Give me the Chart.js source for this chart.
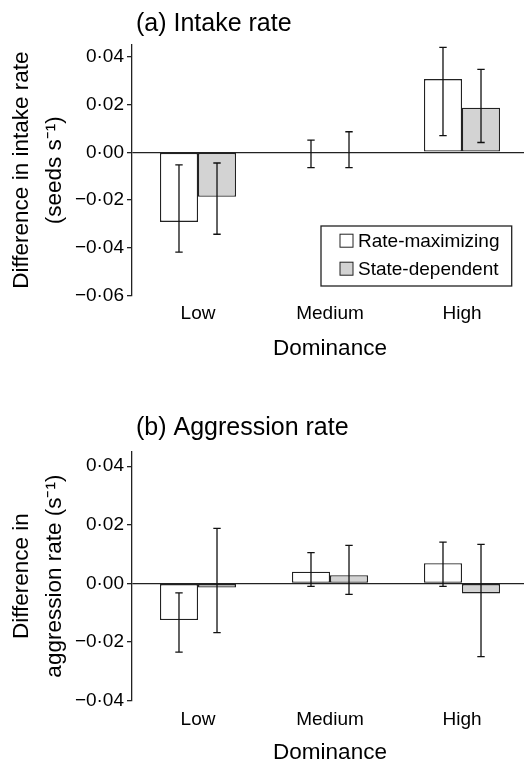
<!DOCTYPE html>
<html>
<head>
<meta charset="utf-8">
<script src="https://cdn.jsdelivr.net/npm/chart.js@4"></script>
<style>
  body { margin: 0; background: #fff; overflow: hidden; }
  .panel { position: relative; width: 524px; overflow: hidden; }
  canvas { display: block; }
</style>
</head>
<body>
<div class="panel"><canvas id="intakeChart" width="528" height="380"></canvas></div>
<div class="panel"><canvas id="aggressionChart" width="528" height="382"></canvas></div>
<script>
const categories = ["Low", "Medium", "High"];
const seriesNames = ["Rate-maximizing", "State-dependent"];

// (a) intake rate, seeds per second
const intakeRateMax = [-0.0292, 0, 0.0307];
const intakeRateMaxLow = [-0.0419, -0.0064, 0.0070];
const intakeRateMaxHigh = [-0.0053, 0.0051, 0.0440];
const intakeStateDep = [-0.0187, 0, 0.0187];
const intakeStateDepLow = [-0.0344, -0.0064, 0.0041];
const intakeStateDepHigh = [-0.0045, 0.0086, 0.0348];

// (b) aggression rate, per second
const aggressionRateMax = [-0.0125, 0.0040, 0.0069];
const aggressionRateMaxLow = [-0.0234, -0.0010, -0.0010];
const aggressionRateMaxHigh = [-0.0032, 0.0105, 0.0141];
const aggressionStateDep = [-0.0014, 0.0028, -0.0034];
const aggressionStateDepLow = [-0.0168, -0.0037, -0.0250];
const aggressionStateDepHigh = [0.0188, 0.0130, 0.0133];

const FONT = "'Liberation Sans', Arial, Helvetica, sans-serif";
Chart.defaults.font.family = FONT;
Chart.defaults.color = "#000";

const errorBars = {
  id: "errorBars",
  afterDatasetsDraw(chart) {
    const { ctx } = chart;
    const yScale = chart.scales.y;
    ctx.save();
    ctx.strokeStyle = "#111";
    ctx.lineWidth = 1.3;
    chart.data.datasets.forEach((ds, i) => {
      const meta = chart.getDatasetMeta(i);
      meta.data.forEach((bar, j) => {
        const top = yScale.getPixelForValue(ds.errHigh[j]);
        const bottom = yScale.getPixelForValue(ds.errLow[j]);
        ctx.beginPath();
        ctx.moveTo(bar.x, top);
        ctx.lineTo(bar.x, bottom);
        ctx.moveTo(bar.x - 3.7, top);
        ctx.lineTo(bar.x + 3.7, top);
        ctx.moveTo(bar.x - 3.7, bottom);
        ctx.lineTo(bar.x + 3.7, bottom);
        ctx.stroke();
      });
    });
    ctx.restore();
  },
};

const panelTitle = {
  id: "panelTitle",
  afterDraw(chart, args, opts) {
    const { ctx } = chart;
    ctx.save();
    ctx.font = "25px " + FONT;
    ctx.fillStyle = "#000";
    ctx.textBaseline = "middle";
    ctx.fillText(opts.text, chart.chartArea.left + 4, opts.y);
    ctx.restore();
  },
};

// boxed legend sitting inside the plot, lower right
const boxLegend = {
  id: "boxLegend",
  afterDraw(chart, args, opts) {
    if (!opts.display) return;
    const { ctx, chartArea } = chart;
    const x = chartArea.right - opts.right - opts.width;
    const y = chartArea.bottom - opts.bottom - opts.height;
    ctx.save();
    ctx.lineWidth = 1.3;
    ctx.strokeStyle = "#222";
    ctx.fillStyle = "#fff";
    ctx.fillRect(x, y, opts.width, opts.height);
    ctx.strokeRect(x, y, opts.width, opts.height);
    ctx.font = "19px " + FONT;
    ctx.textBaseline = "middle";
    chart.data.datasets.forEach((ds, i) => {
      const cy = y + 14.7 + i * 28;
      ctx.fillStyle = ds.backgroundColor;
      ctx.fillRect(x + 19, cy - 6.5, 13, 13);
      ctx.lineWidth = 1;
      ctx.strokeRect(x + 19, cy - 6.5, 13, 13);
      ctx.fillStyle = "#000";
      ctx.fillText(ds.label, x + 37, cy + 1);
    });
    ctx.restore();
  },
};

function formatTick(value) {
  if (Math.abs(value) < 1e-9) return "0·00";
  const text = Math.abs(value).toFixed(2).replace(".", "·");
  return value < 0 ? "\u2212" + text : text;
}

function makeChart(canvasId, cfg) {
  const ctx = document.getElementById(canvasId).getContext("2d");
  return new Chart(ctx, {
    type: "bar",
    data: {
      labels: categories,
      datasets: [
        {
          label: seriesNames[0],
          data: cfg.rateMax,
          errLow: cfg.rateMaxLow,
          errHigh: cfg.rateMaxHigh,
          backgroundColor: "#ffffff",
          borderColor: "#222",
          borderWidth: 1.3,
          borderSkipped: false,
        },
        {
          label: seriesNames[1],
          data: cfg.stateDep,
          errLow: cfg.stateDepLow,
          errHigh: cfg.stateDepHigh,
          backgroundColor: "#d3d3d3",
          borderColor: "#222",
          borderWidth: 1.3,
          borderSkipped: false,
        },
      ],
    },
    options: {
      responsive: false,
      animation: false,
      layout: { padding: { top: cfg.padTop, left: 0, right: 0, bottom: cfg.padBottom } },
      datasets: { bar: { categoryPercentage: 0.576, barPercentage: 1 } },
      plugins: {
        legend: { display: false },
        tooltip: { enabled: false },
        panelTitle: { text: cfg.title, y: cfg.titleY },
        boxLegend: { display: cfg.legend, width: 190.7, height: 60, right: 16.3, bottom: 9.3 },
      },
      scales: {
        x: {
          grid: { display: false, drawTicks: false },
          border: { display: false },
          ticks: { font: { size: 19 }, padding: cfg.xPad },
          title: {
            display: true,
            text: "Dominance",
            font: { size: 22.5, lineHeight: 0.85 },
            padding: 0,
          },
          afterFit(scale) { scale.height = cfg.xHeight; },
        },
        y: {
          min: cfg.min,
          max: cfg.max,
          border: { display: true, color: "#222", width: 1.3 },
          grid: {
            color: (c) => (c.tick && Math.abs(c.tick.value) < 1e-9 ? "#222" : "rgba(0,0,0,0)"),
            lineWidth: 1.3,
            tickColor: "#222",
            tickLength: 5,
          },
          ticks: {
            stepSize: 0.02,
            includeBounds: false,
            padding: 3,
            font: { size: 19 },
            callback: (v) => formatTick(v),
          },
          title: {
            display: true,
            text: cfg.yTitle,
            font: { size: 22.5, lineHeight: 1.47 },
            padding: { top: 5, bottom: 0 },
          },
          afterFit(scale) { scale.width = 132; },
        },
      },
    },
    plugins: [errorBars, panelTitle, boxLegend],
  });
}

makeChart("intakeChart", {
  title: "(a) Intake rate",
  titleY: 24.5,
  yTitle: ["Difference in intake rate", "(seeds s\u207B\u00B9)"],
  rateMax: intakeRateMax,
  rateMaxLow: intakeRateMaxLow,
  rateMaxHigh: intakeRateMaxHigh,
  stateDep: intakeStateDep,
  stateDepLow: intakeStateDepLow,
  stateDepHigh: intakeStateDepHigh,
  min: -0.06,
  max: 0.045,
  padTop: 45,
  padBottom: 22,
  xHeight: 62.7,
  xPad: 7,
  legend: true,
});

makeChart("aggressionChart", {
  title: "(b) Aggression rate",
  titleY: 48.5,
  yTitle: ["Difference in", "aggression rate (s\u207B\u00B9)"],
  rateMax: aggressionRateMax,
  rateMaxLow: aggressionRateMaxLow,
  rateMaxHigh: aggressionRateMaxHigh,
  stateDep: aggressionStateDep,
  stateDepLow: aggressionStateDepLow,
  stateDepHigh: aggressionStateDepHigh,
  min: -0.04,
  max: 0.045,
  padTop: 71.5,
  padBottom: 0,
  xHeight: 61.3,
  xPad: 8,
  legend: false,
});
</script>
</body>
</html>
